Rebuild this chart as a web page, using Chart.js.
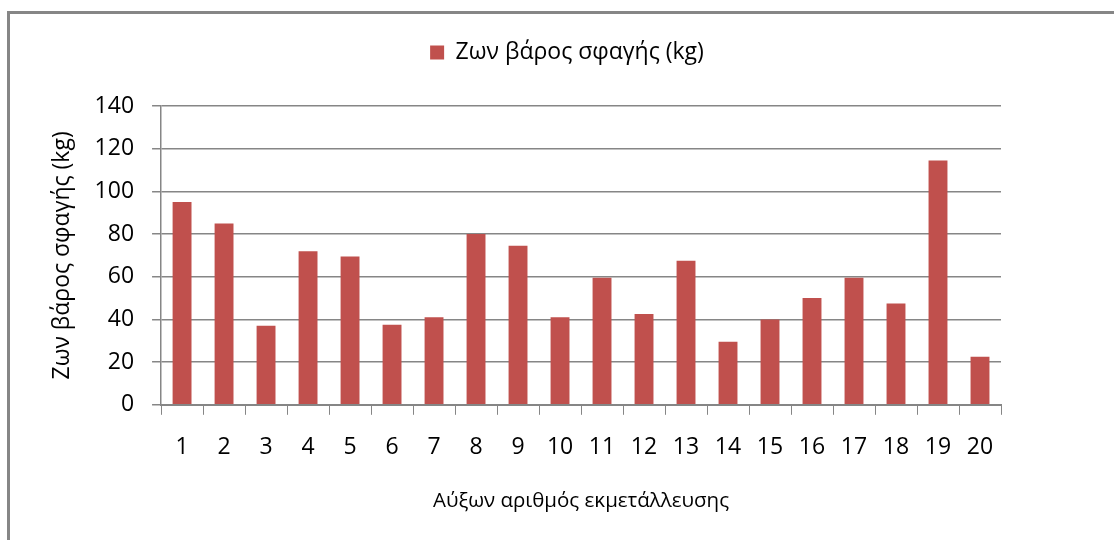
<!DOCTYPE html>
<html lang="el">
<head>
    <meta charset="UTF-8">
    <title>Ζων βάρος σφαγής</title>
    <script src="https://cdn.jsdelivr.net/npm/chart.js"></script>
    <style>
        body {
            margin: 0;
            width: 1114px;
            height: 540px;
            overflow: hidden;
            background: #fff;
        }
        .frame {
            position: absolute;
            left: 7px;
            top: 11px;
            width: 1120px;
            height: 540px;
            border: 3px solid #868686;
        }
        .chart-box {
            position: absolute;
            left: 0;
            top: 0;
            width: 1114px;
            height: 540px;
        }
    </style>
</head>
<body>
    <div class="frame"></div>
    <div class="chart-box">
        <canvas id="chart"></canvas>
    </div>

    <script>
        // data
        const farms = ['1', '2', '3', '4', '5', '6', '7', '8', '9', '10',
                       '11', '12', '13', '14', '15', '16', '17', '18', '19', '20'];
        const liveWeight = [95, 85, 37, 72, 69.5, 37.5, 41, 80, 74.5, 41,
                            59.5, 42.5, 67.5, 29.5, 40, 50, 59.5, 47.5, 114.5, 22.5];
        const yTicks = [0, 20, 40, 60, 80, 100, 120, 140];

        const seriesName = 'Ζων βάρος σφαγής (kg)';
        const xTitle = 'Αύξων αριθμός εκμετάλλευσης';
        const yTitle = 'Ζων βάρος σφαγής (kg)';

        const gridColor = '#868686';
        const font = 'Open Sans';

        // extra room under the legend, and legend centred on the whole page
        const legendGap = {
            id: 'legendGap',
            beforeInit(chart) {
                const fit = chart.legend.fit;
                chart.legend.fit = function () {
                    fit.bind(chart.legend)();
                    this.height += 32;
                };
            },
            afterLayout(chart) {
                chart.legend.left += 44;
                chart.legend.right += 44;
            }
        };

        const ctx = document.getElementById('chart').getContext('2d');
        new Chart(ctx, {
            type: 'bar',
            data: {
                labels: farms,
                datasets: [{
                    label: seriesName,
                    data: liveWeight,
                    backgroundColor: '#C0504D',
                    barPercentage: 0.9,
                    categoryPercentage: 0.5
                }]
            },
            options: {
                responsive: true,
                maintainAspectRatio: false,
                animation: false,
                layout: {
                    padding: { left: 45, right: 113, top: 12, bottom: 23 }
                },
                plugins: {
                    legend: {
                        display: true,
                        position: 'top',
                        labels: {
                            boxWidth: 14,
                            boxHeight: 14,
                            color: '#000',
                            font: { family: font, size: 23 },
                            padding: 29
                        }
                    },
                    tooltip: { enabled: false }
                },
                scales: {
                    x: {
                        grid: {
                            offset: true,
                            drawOnChartArea: false,
                            color: gridColor,
                            tickLength: 10
                        },
                        border: { color: gridColor, width: 2 },
                        ticks: {
                            color: '#000',
                            font: { family: font, size: 23 },
                            padding: 19,
                            maxRotation: 0
                        },
                        title: {
                            display: true,
                            text: xTitle,
                            color: '#000',
                            font: { family: font, size: 20.5 },
                            padding: { top: 8 }
                        }
                    },
                    y: {
                        min: 0,
                        max: 140,
                        afterBuildTicks: (axis) => {
                            axis.ticks = yTicks.map(v => ({ value: v }));
                        },
                        grid: {
                            color: gridColor,
                            lineWidth: 1.5,
                            tickLength: 9
                        },
                        border: { color: gridColor, width: 1.5 },
                        ticks: {
                            color: '#000',
                            font: { family: font, size: 23 },
                            padding: 18
                        },
                        title: {
                            display: true,
                            text: yTitle,
                            color: '#000',
                            font: { family: font, size: 23 },
                            padding: { bottom: 0 }
                        }
                    }
                }
            },
            plugins: [legendGap]
        });
    </script>
</body>
</html>
